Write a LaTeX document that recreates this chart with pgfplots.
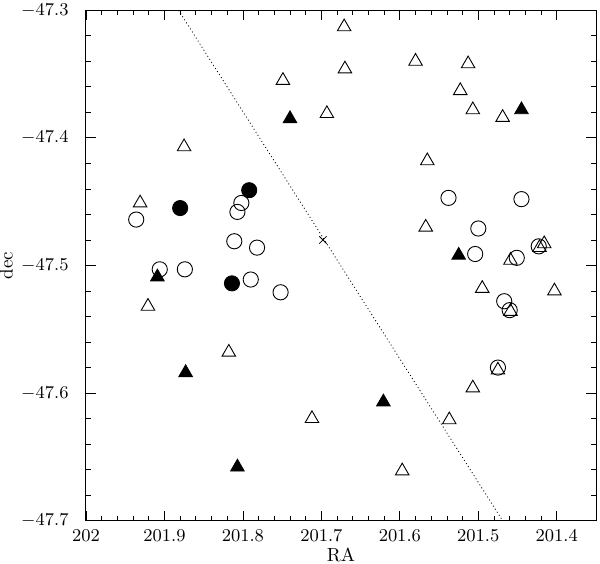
\documentclass[border=0pt]{standalone}
\usepackage{pgfplots}
\pgfplotsset{compat=1.18}
\begin{document}
\begin{tikzpicture}
\begin{axis}[
  scale only axis,
  width=255pt, height=255.2pt,
  x dir=reverse,
  xmin=201.35, xmax=202,
  ymin=-47.7, ymax=-47.3,
  xtick={201.4,201.5,201.6,201.7,201.8,201.9,202},
  ytick={-47.7,-47.6,-47.5,-47.4,-47.3},
  minor x tick num=4,
  minor y tick num=4,
  tick align=inside,
  major tick length=5pt,
  minor tick length=2.5pt,
  tick style={black, line width=0.4pt},
  axis line style={line width=0.5pt},
  xticklabel={\pgfmathprintnumber[fixed,precision=1]{\tick}},
  yticklabel={\pgfmathprintnumber[fixed,precision=1,fixed zerofill]{\tick}},
  xticklabel style={anchor=center, yshift=-7.6pt},
  yticklabel style={anchor=east, xshift=-5.2pt},
  tick label style={font=\fontsize{9.5}{11}\selectfont},
  label style={font=\fontsize{9.5}{11}\selectfont},
  xlabel={RA},
  ylabel={dec},
  xlabel style={yshift=4pt},
  ylabel style={yshift=-2.6pt},
  clip=false,
]
% dotted line
\addplot[black, line width=0.4pt, dash pattern=on 0.5pt off 1.3pt] coordinates {(201.882,-47.3) (201.469,-47.7)};
% cross
\addplot[only marks, mark=x, mark size=2.6pt, mark options={black, line width=0.4pt}] coordinates {(201.698,-47.480)};
% open circles
\addplot[only marks, mark=o, mark size=3.8pt, mark options={black, line width=0.45pt}] coordinates {
(201.936,-47.464) (201.802,-47.451) (201.807,-47.458) (201.811,-47.481) (201.782,-47.486)
(201.906,-47.503) (201.874,-47.503) (201.790,-47.511) (201.752,-47.521)
(201.538,-47.447) (201.445,-47.448) (201.500,-47.471) (201.504,-47.491) (201.451,-47.494)
(201.423,-47.485) (201.467,-47.528) (201.460,-47.535) (201.475,-47.580)
};
% open triangles
\addplot[only marks, mark=triangle, mark size=3.9pt, mark options={black, line width=0.45pt}] coordinates {
(201.749,-47.355) (201.693,-47.381) (201.875,-47.407) (201.931,-47.451) (201.671,-47.313)
(201.670,-47.346) (201.580,-47.340) (201.513,-47.342) (201.523,-47.363) (201.507,-47.378)
(201.469,-47.384) (201.565,-47.418) (201.567,-47.470) (201.459,-47.496) (201.422,-47.486)
(201.416,-47.483) (201.495,-47.518) (201.403,-47.520) (201.459,-47.536) (201.475,-47.582)
(201.507,-47.596) (201.537,-47.621) (201.597,-47.661) (201.921,-47.532) (201.818,-47.568)
(201.712,-47.620)
};
% filled triangles
\addplot[only marks, mark=triangle*, mark size=3.9pt, mark options={black, fill=black, line width=0.45pt}] coordinates {
(201.740,-47.385) (201.909,-47.509) (201.873,-47.584) (201.807,-47.658)
(201.445,-47.378) (201.525,-47.492) (201.621,-47.607)
};
% filled circles
\addplot[only marks, mark=*, mark size=3.8pt, mark options={black, fill=black}] coordinates {
(201.880,-47.455) (201.792,-47.441) (201.814,-47.514)
};
\end{axis}
\pgfresetboundingbox
\path[use as bounding box] ([xshift=-43pt,yshift=-21.15pt]current axis.south west) rectangle ([xshift=2pt,yshift=5.15pt]current axis.north east);
\end{tikzpicture}
\end{document}
